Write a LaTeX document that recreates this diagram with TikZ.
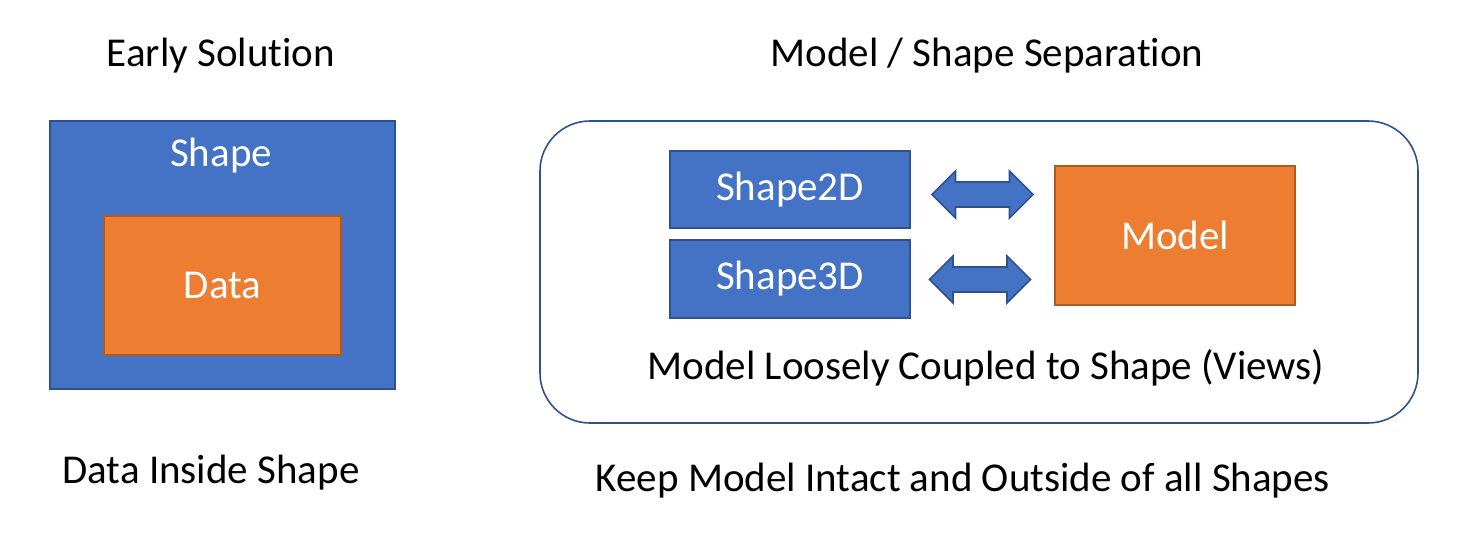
\documentclass[tikz,border=0pt]{standalone}
\usepackage{fontspec}
\setmainfont{Carlito}[Ligatures=NoCommon]
\usepackage{tikz}
\definecolor{boxblue}{HTML}{4472C4}
\definecolor{edgeblue}{HTML}{2F528F}
\definecolor{boxorange}{HTML}{ED7D31}
\definecolor{edgeorange}{HTML}{AE5A21}
\tikzset{
  viewbox/.style={draw=edgeblue, fill=boxblue, line width=0.8pt, text=white, inner sep=0pt},
  modelbox/.style={draw=edgeorange, fill=boxorange, line width=0.8pt, text=white, inner sep=0pt},
  frame/.style={draw=edgeblue, line width=0.8pt, fill=white, rounded corners=25pt},
  link/.style={draw=edgeblue, fill=boxblue, line width=0.8pt, line join=miter},
  caption/.style={black, anchor=base, inner sep=0pt},
  inbox/.style={white, anchor=base, inner sep=0pt}
}
\begin{document}
\begin{tikzpicture}[x=0.5pt, y=-0.5pt, font=\fontsize{20.5pt}{24pt}\selectfont]
  \useasboundingbox (0,0) rectangle (1462,557);
  % Early solution: data kept inside the shape
  \node[caption] (early) at (221,66) {Early Solution};
  \node[viewbox, minimum width=172.5pt, minimum height=134pt] (shape) at (222.5,255) {};
  \node[inbox] (shapelbl) at (221,166) {Shape};
  \node[modelbox, minimum width=118.5pt, minimum height=69.5pt] (data) at (222.5,285.5) {Data};
  \node[caption] (inside) at (211,483) {Data Inside Shape};
  % Model / shape separation
  \node[caption] (sep) at (987,66) {Model / Shape Separation};
  \node[frame, minimum width=439pt, minimum height=151pt] (views) at (979,272) {};
  \node[viewbox, minimum width=120pt, minimum height=38.5pt] (s2d) at (790,189.5) {Shape2D};
  \node[viewbox, minimum width=120pt, minimum height=39pt] (s3d) at (790,279) {Shape3D};
  \node[modelbox, minimum width=120pt, minimum height=69.5pt] (model) at (1175,235.5) {Model};
  % Double block arrows between views and model
  \foreach \cx/\cy in {982.5/194.5, 980/279.5} {
    \draw[link] (\cx-50.5,\cy) -- ++(23.5,-23.5) -- ++(0,11) -- ++(54,0) -- ++(0,-11)
      -- ++(23.5,23.5) -- ++(-23.5,23.5) -- ++(0,-11) -- ++(-54,0) -- ++(0,11) -- cycle;
  }
  \node[caption] (coupled) at (986,379) {Model Loosely Coupled to Shape (Views)};
  \node[caption] (keep) at (963,491) {Keep Model Intact and Outside of all Shapes};
\end{tikzpicture}
\end{document}
